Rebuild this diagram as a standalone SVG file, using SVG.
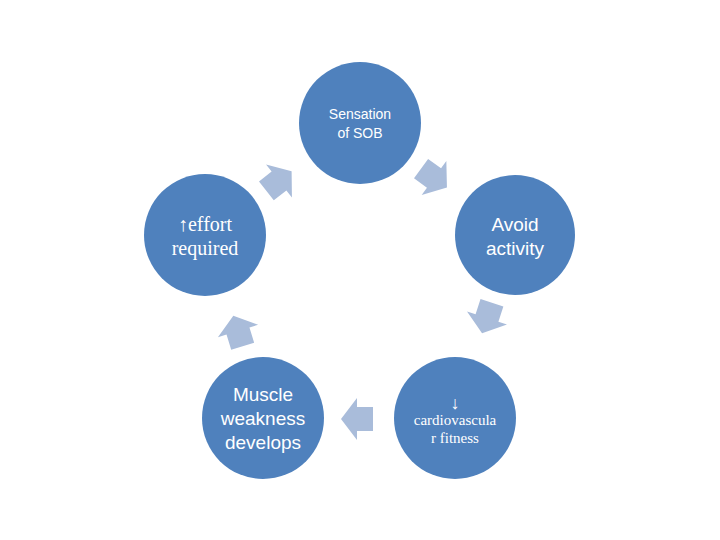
<svg xmlns="http://www.w3.org/2000/svg" width="720" height="540" viewBox="0 0 720 540">
<style>
.n{fill:#4F81BD}
.a{fill:#A9BCDA}
.s{font-family:"Liberation Sans",Arial,sans-serif;fill:#fff;text-anchor:middle}
.r{font-family:"Liberation Serif","Times New Roman",serif;fill:#fff;text-anchor:middle}
</style>
<defs><path id="arr" d="M-16,-12H0V-21L16,0L0,21V12H-16Z"/></defs>
<rect width="720" height="540" fill="#fff"/>
<g id="connectors">
<use href="#arr" class="a" transform="translate(434,178) rotate(36)"/>
<use href="#arr" class="a" transform="translate(487,318) rotate(108)"/>
<use href="#arr" class="a" transform="translate(357,419) rotate(180)"/>
<use href="#arr" class="a" transform="translate(238,331) rotate(-107)"/>
<use href="#arr" class="a" transform="translate(279,181) rotate(-38)"/>
</g>
<g id="sob"><circle class="n" cx="360" cy="123" r="61"/>
<text class="s" font-size="14" x="360" y="119">Sensation</text><text class="s" font-size="14" x="360" y="138">of SOB</text></g>
<g id="avoid"><circle class="n" cx="515" cy="235" r="60"/>
<text class="s" font-size="19" x="515" y="231">Avoid</text><text class="s" font-size="19" x="515" y="255">activity</text></g>
<g id="cardio"><circle class="n" cx="455" cy="418" r="61"/>
<text class="r" font-size="18" x="455" y="409">↓</text><text class="r" font-size="15" x="455" y="425">cardiovascula</text><text class="r" font-size="15" x="455" y="443">r fitness</text></g>
<g id="muscle"><circle class="n" cx="263" cy="418" r="61"/>
<text class="s" font-size="19" x="263" y="401">Muscle</text><text class="s" font-size="19" x="263" y="425">weakness</text><text class="s" font-size="19" x="263" y="449">develops</text></g>
<g id="effort"><circle class="n" cx="205" cy="235" r="61"/>
<text class="r" font-size="20" x="205" y="231">↑effort</text><text class="r" font-size="20" x="205" y="255">required</text></g>
</svg>
